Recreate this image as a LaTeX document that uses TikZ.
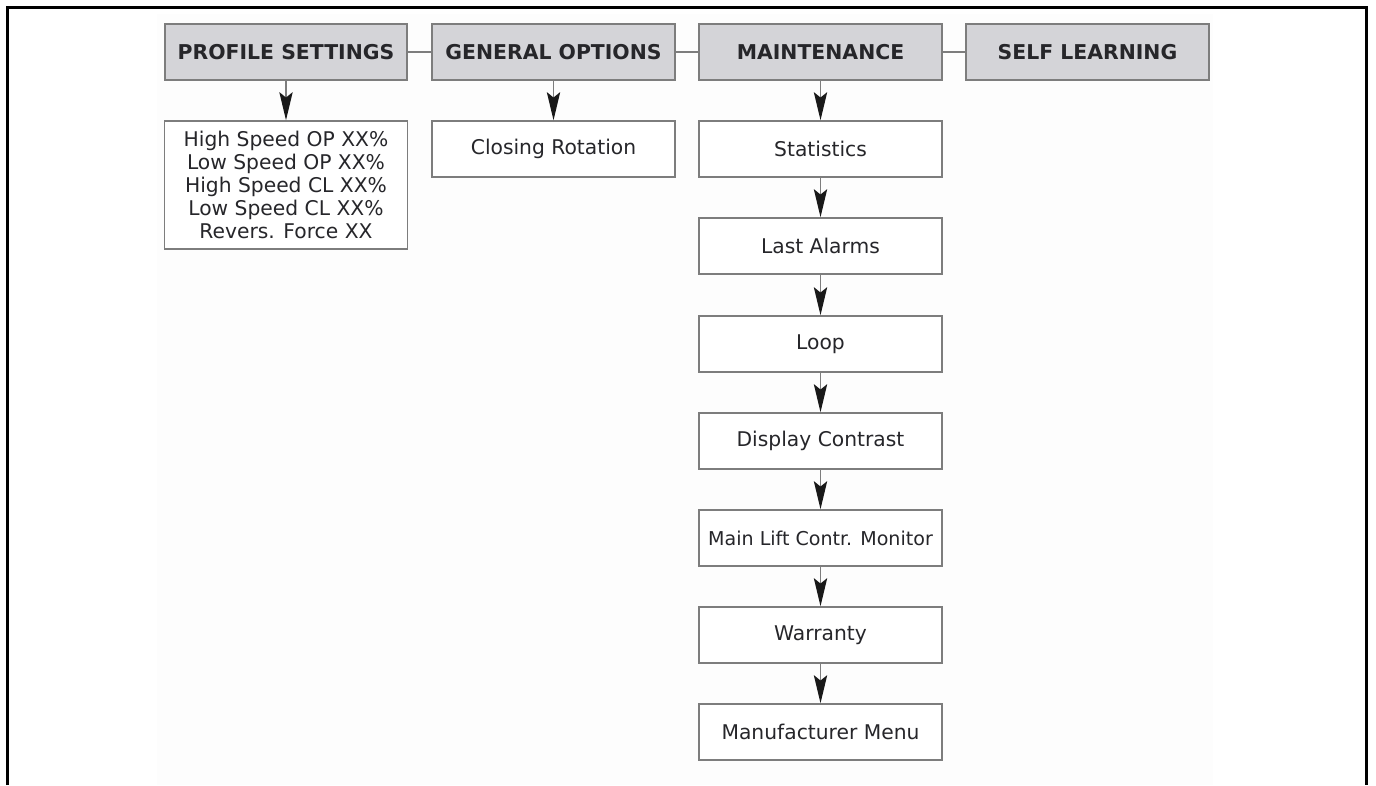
\documentclass[tikz,border=0pt]{standalone}
\usepackage{fontspec}
\setmainfont{DejaVu Sans}
\usetikzlibrary{arrows.meta}
\definecolor{hdrfill}{RGB}{212,212,216}
\definecolor{boxline}{RGB}{125,125,125}
\definecolor{txt}{RGB}{38,38,42}
\definecolor{tipc}{RGB}{25,25,25}
\begin{document}
\begin{tikzpicture}[x=0.75pt,y=-0.75pt,
  hdr/.style={draw=boxline,line width=1.5pt,fill=hdrfill,minimum width=182pt,minimum height=42pt,inner sep=0pt,text=txt,font=\fontsize{15.3}{17}\selectfont\bfseries},
  item/.style={draw=boxline,line width=1.2pt,fill=white,minimum width=182pt,minimum height=42pt,inner sep=0pt,text=txt,font=\fontsize{15.2}{17.25}\selectfont,align=center},
  link/.style={draw=boxline,line width=1pt},
  arr/.style={draw=boxline,line width=1pt,-{Stealth[length=21pt,width=10pt,inset=4pt,fill=tipc,color=tipc]}}]
\useasboundingbox (0,0) rectangle (1376,785);
\fill[white] (0,0) rectangle (1376,785);
\fill[gray!1.5] (157,14) rectangle (1213,785);
\draw[line width=2.25pt] (7.5,785) -- (7.5,7) -- (1366.5,7) -- (1366.5,785);
% headers
\node[hdr] (ps) at (286,52) {PROFILE SETTINGS};
\node[hdr] (go) at (553.5,52) {GENERAL OPTIONS};
\node[hdr] (mt) at (820.5,52) {MAINTENANCE};
\node[hdr] (sl) at (1087.5,52) {SELF LEARNING};
\draw[link] (ps) -- (go);
\draw[link] (go) -- (mt);
\draw[link] (mt) -- (sl);
% children
\node[item,minimum height=96pt] (pl) at (286,185) {High Speed OP XX\%\\Low Speed OP XX\%\\High Speed CL XX\%\\Low Speed CL XX\%\\Revers. Force XX};
\node[item] (cr) at (553.5,149) {Closing Rotation};
\node[item] (st) at (820.5,149) {Statistics};
\node[item] (la) at (820.5,246) {Last Alarms};
\node[item] (lp) at (820.5,344) {Loop};
\node[item] (dc) at (820.5,441) {Display Contrast};
\node[item,font=\fontsize{14.3}{17}\selectfont] (ml) at (820.5,538) {Main Lift Contr. Monitor};
\node[item] (wa) at (820.5,635) {Warranty};
\node[item] (mm) at (820.5,732) {Manufacturer Menu};
\draw[arr] (ps) -- (pl);
\draw[arr] (go) -- (cr);
\draw[arr] (mt) -- (st);
\draw[arr] (st) -- (la);
\draw[arr] (la) -- (lp);
\draw[arr] (lp) -- (dc);
\draw[arr] (dc) -- (ml);
\draw[arr] (ml) -- (wa);
\draw[arr] (wa) -- (mm);
\end{tikzpicture}
\end{document}
